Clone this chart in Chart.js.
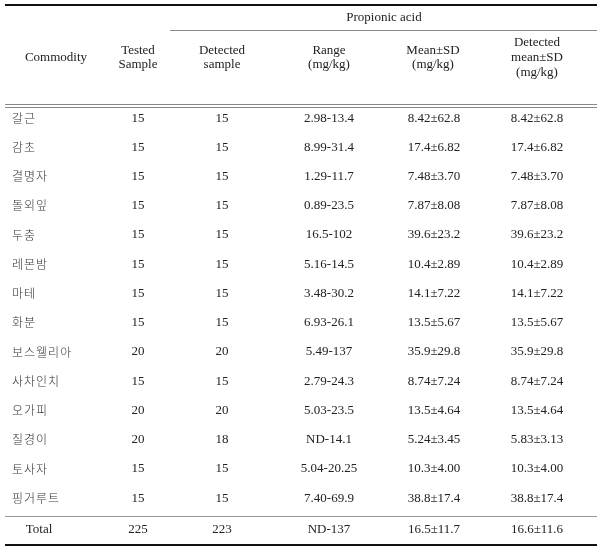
<!DOCTYPE html>
<html>
<head>
<meta charset="utf-8">
<script src="https://cdn.jsdelivr.net/npm/chart.js@4/dist/chart.umd.min.js"></script>
<style>
body{margin:0;background:#fff;}
#wrap{width:603px;height:552px;}
</style>
</head>
<body>
<div id="wrap"><canvas id="tbl"></canvas></div>
<script>
// table values
var commodity = ['갈근','감초','결명자','돌외잎','두충','레몬밤','마테','화분','보스웰리아','사차인치','오가피','질경이','토사자','핑거루트'];
var tested = ['15','15','15','15','15','15','15','15','20','15','20','20','15','15'];
var detected = ['15','15','15','15','15','15','15','15','20','15','20','18','15','15'];
var range = ['2.98-13.4','8.99-31.4','1.29-11.7','0.89-23.5','16.5-102','5.16-14.5','3.48-30.2','6.93-26.1','5.49-137','2.79-24.3','5.03-23.5','ND-14.1','5.04-20.25','7.40-69.9'];
var mean = ['8.42±62.8','17.4±6.82','7.48±3.70','7.87±8.08','39.6±23.2','10.4±2.89','14.1±7.22','13.5±5.67','35.9±29.8','8.74±7.24','13.5±4.64','5.24±3.45','10.3±4.00','38.8±17.4'];
var detMean = ['8.42±62.8','17.4±6.82','7.48±3.70','7.87±8.08','39.6±23.2','10.4±2.89','14.1±7.22','13.5±5.67','35.9±29.8','8.74±7.24','13.5±4.64','5.83±3.13','10.3±4.00','38.8±17.4'];
var total = ['Total','225','223','ND-137','16.5±11.7','16.6±11.6'];
var headers = [['Commodity'],['Tested','Sample'],['Detected','sample'],['Range','(mg/kg)'],['Mean±SD','(mg/kg)'],['Detected','mean±SD','(mg/kg)']];
var groupTitle = 'Propionic acid';

// layout (x in canvas px units, y in row units)
var colX = [12, 138, 222, 329, 434, 537];
var headX = [56, 138, 222, 329, 433, 537];
var totalX = 39;
var FONT = '13px "Liberation Serif", "Noto Sans CJK KR", serif';
var KFONT = '300 12px "Noto Sans CJK KR", sans-serif';
var INK = '#222';

var columns = [commodity, tested, detected, range, mean, detMean];

function buildCells(){
    var pts = [];
    for(var c = 0; c < columns.length; c++){
        for(var r = 0; r < columns[c].length; r++){
            pts.push({x: colX[c], y: r, t: columns[c][r], a: c == 0 ? 'left' : 'center', k: c == 0});
        }
    }
    for(var k = 0; k < total.length; k++){
        pts.push({x: k == 0 ? totalX : colX[k], y: 14.09, t: total[k], a: 'center', k: false});
    }
    return pts;
}

var tablePlugin = {
    id: 'tableText',
    afterDatasetsDraw: function(chart){
        var ctx = chart.ctx;
        var xs = chart.scales.x, ys = chart.scales.y;
        function X(v){ return xs.getPixelForValue(v); }
        function Y(v){ return ys.getPixelForValue(v); }
        function rule(y, x0, x1, w, col){
            var py = Math.round(Y(y)) + (w % 2 ? 0.5 : 0);
            ctx.save();
            ctx.strokeStyle = col;
            ctx.lineWidth = w;
            ctx.beginPath();
            ctx.moveTo(X(x0), py);
            ctx.lineTo(X(x1), py);
            ctx.stroke();
            ctx.restore();
        }
        ctx.save();
        ctx.textBaseline = 'middle';

        // body cells from the dataset points
        var meta = chart.getDatasetMeta(0);
        var raw = chart.data.datasets[0].data;
        for(var i = 0; i < meta.data.length; i++){
            ctx.font = raw[i].k ? KFONT : FONT;
            ctx.fillStyle = raw[i].k ? '#333' : INK;
            ctx.letterSpacing = raw[i].k ? '1px' : '0px';
            ctx.textAlign = raw[i].a;
            ctx.fillText(raw[i].t, meta.data[i].x, meta.data[i].y);
        }
        ctx.letterSpacing = '0px';

        // header block
        ctx.font = FONT;
        ctx.fillStyle = INK;
        ctx.textAlign = 'center';
        ctx.fillText(groupTitle, X(384), Y(-3.44));
        for(var h = 0; h < headers.length; h++){
            var n = headers[h].length;
            for(var l = 0; l < n; l++){
                ctx.fillText(headers[h][l], X(headX[h]), Y(-2.07 + (l - (n - 1) / 2) * 0.5));
            }
        }
        ctx.restore();

        // rules
        rule(-3.87, 5, 597, 2, '#111');
        rule(-3.01, 170, 597, 1, '#888');
        rule(-0.48, 5, 597, 1, '#888');
        rule(-0.38, 5, 597, 1, '#888');
        rule(13.61, 5, 597, 1, '#999');
        rule(14.6, 5, 597, 2, '#111');
    }
};

var graph = new Chart(document.getElementById('tbl'), {
    type: 'scatter',
    data: {
        datasets: [{
            data: buildCells(),
            pointRadius: 0,
            pointHoverRadius: 0
        }]
    },
    options: {
        responsive: true,
        maintainAspectRatio: false,
        animation: false,
        layout: { padding: 0 },
        events: [],
        plugins: { legend: { display: false }, tooltip: { enabled: false } },
        scales: {
            x: { type: 'linear', min: 0, max: 603, display: false },
            y: { type: 'linear', min: -4.04, max: 14.84, reverse: true, display: false }
        }
    },
    plugins: [tablePlugin]
});
</script>
</body>
</html>
